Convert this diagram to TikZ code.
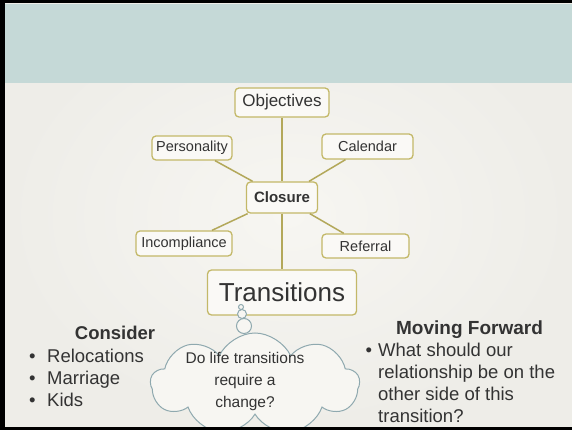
\documentclass[tikz,border=0pt]{standalone}
\usepackage{fontspec}
\setmainfont{Liberation Sans}
\usetikzlibrary{positioning, shapes}
\definecolor{mint_banner}{HTML}{C5D9D7}
\definecolor{paper}{HTML}{F7F6F2}
\definecolor{paper_edge}{HTML}{EEEDE8}
\definecolor{olive_box}{HTML}{C3B868}
\definecolor{olive_line}{HTML}{B3A85A}
\definecolor{box_fill}{HTML}{FAF9F6}
\definecolor{ink}{HTML}{333333}
\definecolor{cloud_blue}{HTML}{8FA9AF}

\begin{document}
\begin{tikzpicture}[x=1pt, y=1pt, node distance=95pt]
	\tikzset{
		every node/.style={text=ink}, % dark grey text everywhere
		topic/.style={draw=olive_box, fill=box_fill, line width=1.3pt, rounded corners=4pt, inner sep=0pt}, % sets properties for each box
		link/.style={draw=olive_line, line width=1.5pt}, % lines between the boxes
		bubble/.style={draw=cloud_blue, fill=paper, line width=1pt}, % thought bubble
	}
	\tikzstyle{small} = [font=\fontsize{14.5}{17}\selectfont]
	\tikzstyle{body} = [font=\fontsize{18.5}{22}\selectfont, align=left, inner sep=0pt]
	% slide background
	\useasboundingbox (0,0) rectangle (572,430);
	\fill[black] (0,0) rectangle (572,430);
	\shade[inner color=paper, outer color=paper_edge] (5,3) rectangle (572,426);
	\fill[mint_banner] (5,347) rectangle (572,426);
	% mind map
	\node[topic, minimum width=71pt, minimum height=31pt, font=\bfseries\fontsize{15}{18}\selectfont] (cl) at (282,232.5) {Closure};
	\node[topic, above of=cl, minimum width=94pt, minimum height=29pt, font=\fontsize{17}{20}\selectfont] (obj) {Objectives};
	\node[topic, below of=cl, minimum width=149pt, minimum height=45pt, font=\fontsize{26}{30}\selectfont] (tr) {Transitions};
	\node[topic, small, above of=cl, xshift=-90pt, yshift=-45.5pt, minimum width=80pt, minimum height=24pt] (per) {Personality};
	\node[topic, small, above of=cl, xshift=85.5pt, yshift=-44pt, minimum width=91pt, minimum height=25pt] (cal) {Calendar};
	\node[topic, small, below of=cl, xshift=-98pt, yshift=49pt, minimum width=96pt, minimum height=25pt] (inc) {Incompliance};
	\node[topic, small, below of=cl, xshift=83.5pt, yshift=46.5pt, minimum width=87pt, minimum height=24pt] (ref) {Referral};
	\draw[link] (obj) -- (cl);
	\draw[link] (cl) -- (tr);
	\draw[link] (per) -- (cl);
	\draw[link] (cal) -- (cl);
	\draw[link] (inc) -- (cl);
	\draw[link] (ref) -- (cl);
	% thought cloud
	\node[bubble, cloud, cloud puffs=9, cloud puff arc=130, aspect=2, minimum width=209pt, minimum height=102pt, inner sep=0pt] (cld) at (255,46) {};
	\node[bubble, circle, minimum size=15pt, inner sep=0pt] (b3) at (244,104) {};
	\node[bubble, circle, minimum size=9pt, inner sep=0pt] (b2) at (242,116) {};
	\node[bubble, circle, minimum size=5pt, inner sep=0pt] (b1) at (241,123) {};
	\node[font=\fontsize{15.5}{22}\selectfont, align=center, inner sep=0pt, anchor=base] (q) at (245,22) {Do life transitions\\require a\\change?};
	% the two lists
	\node[font=\bfseries\fontsize{18.5}{22}\selectfont, anchor=base] (con) at (115,90) {Consider};
	\node[body, anchor=base west] (lst) at (29,23) {\makebox[18pt][l]{\textbullet}Relocations\\\makebox[18pt][l]{\textbullet}Marriage\\\makebox[18pt][l]{\textbullet}Kids};
	\node[font=\bfseries\fontsize{19}{22}\selectfont, anchor=base] (mov) at (469.5,95) {Moving Forward};
	\node[body, anchor=base west] (fwd) at (365.5,7) {\makebox[12.5pt][l]{\textbullet}What should our\\\hspace*{12.5pt}relationship be on the\\\hspace*{12.5pt}other side of this\\\hspace*{12.5pt}transition?};
	\fill[black] (0,0) rectangle (572,3);
\end{tikzpicture}
\end{document}
